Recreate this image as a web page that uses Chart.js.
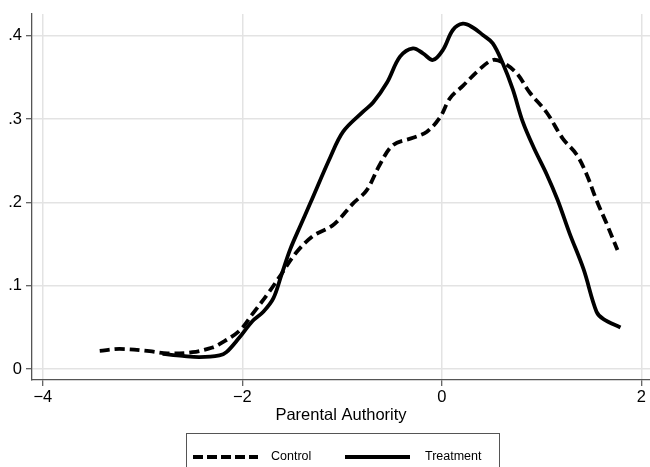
<!DOCTYPE html>
<html>
<head>
<meta charset="utf-8">
<script src="https://cdn.jsdelivr.net/npm/chart.js@4"></script>
<style>
  body { margin: 0; background: #fff; }
  canvas { display: block; }
</style>
</head>
<body>
<canvas id="chart" width="650" height="467"></canvas>
<script>
const controlX = [-3.43, -3.23, -2.93, -2.75, -2.5, -2.3, -2.23, -2.03, -1.9, -1.73, -1.61, -1.46, -1.29, -1.09, -0.89, -0.755, -0.62, -0.49, -0.29, -0.15, -0.02, 0.08, 0.21, 0.38, 0.51, 0.61, 0.75, 0.88, 1.05, 1.21, 1.35, 1.45, 1.55, 1.65, 1.76];
const controlY = [0.022, 0.0243, 0.0216, 0.019, 0.0204, 0.026, 0.030, 0.046, 0.066, 0.093, 0.114, 0.14, 0.16, 0.173, 0.199, 0.2145, 0.246, 0.269, 0.2776, 0.285, 0.302, 0.325, 0.34, 0.36, 0.371, 0.368, 0.355, 0.332, 0.308, 0.277, 0.2576, 0.234, 0.2027, 0.175, 0.143];

const treatmentX = [-2.8, -2.6, -2.43, -2.23, -2.16, -2.03, -1.9, -1.79, -1.69, -1.61, -1.52, -1.42, -1.32, -1.12, -0.99, -0.79, -0.69, -0.55, -0.42, -0.29, -0.19, -0.09, 0.01, 0.11, 0.21, 0.31, 0.41, 0.51, 0.61, 0.71, 0.81, 0.92, 1.05, 1.16, 1.28, 1.42, 1.55, 1.62, 1.79];
const treatmentY = [0.0185, 0.016, 0.0145, 0.0165, 0.0204, 0.038, 0.0576, 0.069, 0.085, 0.1125, 0.144, 0.1718, 0.199, 0.254, 0.285, 0.309, 0.32, 0.344, 0.375, 0.385, 0.379, 0.371, 0.383, 0.407, 0.4145, 0.41, 0.401, 0.391, 0.367, 0.336, 0.297, 0.266, 0.234, 0.203, 0.163, 0.12, 0.069, 0.06, 0.05];

const xTicks = [-4, -2, 0, 2];
const yTicks = [0, 0.1, 0.2, 0.3, 0.4];
const seriesNames = ["Control", "Treatment"];

const FONT = "'Liberation Sans', Arial, Helvetica, sans-serif";

function toPoints(xs, ys) {
  return xs.map((x, i) => ({ x: x, y: ys[i] }));
}

// Stata-style boxed legend under the axis title
const boxLegend = {
  id: "boxLegend",
  afterDraw(chart) {
    const ctx = chart.ctx;
    ctx.save();
    ctx.strokeStyle = "#555";
    ctx.lineWidth = 1;
    ctx.strokeRect(186.5, 433.5, 313, 40);

    const y = 457;
    ctx.lineWidth = 3.8;
    ctx.strokeStyle = "#000";
    ctx.setLineDash([10, 4]);
    ctx.beginPath();
    ctx.moveTo(193, y);
    ctx.lineTo(258, y);
    ctx.stroke();
    ctx.setLineDash([]);
    ctx.beginPath();
    ctx.moveTo(345, y);
    ctx.lineTo(410, y);
    ctx.stroke();

    ctx.fillStyle = "#000";
    ctx.font = "12.5px " + FONT;
    ctx.textBaseline = "middle";
    ctx.fillText(seriesNames[0], 271, y);
    ctx.fillText(seriesNames[1], 425, y);
    ctx.restore();
  }
};

new Chart(document.getElementById("chart"), {
  type: "line",
  data: {
    datasets: [
      {
        label: seriesNames[0],
        data: toPoints(controlX, controlY),
        borderColor: "#000",
        borderWidth: 3.8,
        borderDash: [10, 5],
        pointRadius: 0,
        tension: 0.35,
        fill: false
      },
      {
        label: seriesNames[1],
        data: toPoints(treatmentX, treatmentY),
        borderColor: "#000",
        borderWidth: 3.8,
        pointRadius: 0,
        tension: 0.35,
        fill: false
      }
    ]
  },
  options: {
    responsive: false,
    animation: false,
    layout: { padding: { top: 7, right: 0, bottom: 35, left: 0 } },
    plugins: {
      legend: { display: false },
      tooltip: { enabled: false }
    },
    scales: {
      x: {
        type: "linear",
        min: -4.109,
        max: 2.086,
        afterBuildTicks: s => { s.ticks = xTicks.map(v => ({ value: v })); },
        afterFit: s => { s.height = 52; },
        grid: { color: "#e3e3e3", lineWidth: 1.5, tickColor: "#333", tickLength: 6, tickWidth: 1 },
        border: { color: "#555", width: 1.3 },
        ticks: {
          color: "#000",
          font: { family: FONT, size: 16.5 },
          padding: 2,
          maxRotation: 0,
          callback: v => (v < 0 ? "\u2212" + Math.abs(v) : String(v))
        },
        title: {
          display: true,
          text: "Parental Authority",
          color: "#000",
          font: { family: FONT, size: 16.5, lineHeight: 1.2 },
          padding: { top: 0, bottom: 7 }
        }
      },
      y: {
        type: "linear",
        min: -0.01295,
        max: 0.4263,
        afterBuildTicks: s => { s.ticks = yTicks.map(v => ({ value: v })); },
        afterFit: s => { s.width = 32; },
        grid: { color: "#e3e3e3", lineWidth: 1.5, tickColor: "#333", tickLength: 6, tickWidth: 1 },
        border: { color: "#555", width: 1.3 },
        ticks: {
          color: "#000",
          font: { family: FONT, size: 16.5 },
          padding: 4,
          callback: v => (v === 0 ? "0" : String(Math.round(v * 10) / 10).replace(/^0/, ""))
        }
      }
    }
  },
  plugins: [boxLegend]
});
</script>
</body>
</html>
